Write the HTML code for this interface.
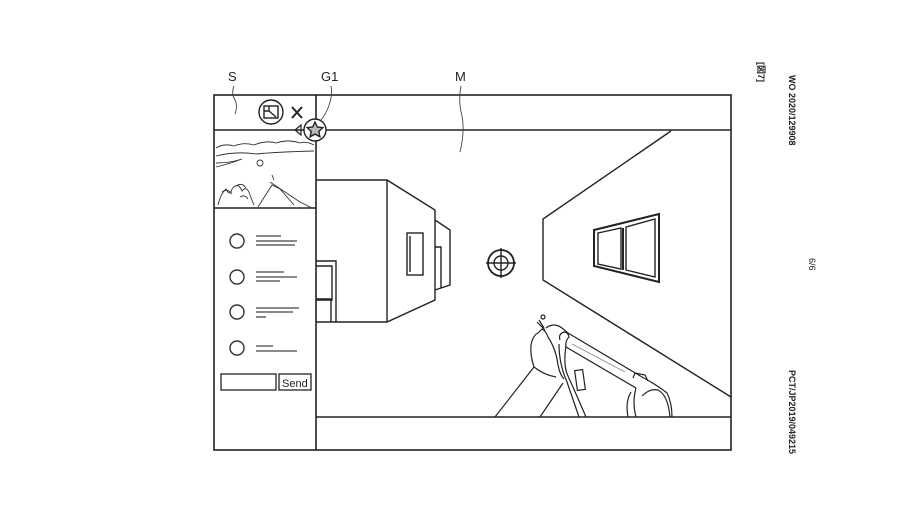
<!DOCTYPE html>
<html><head><style>
html,body{margin:0;padding:0;background:#fff;width:924px;height:520px;overflow:hidden}
svg{display:block}
text{font-family:"Liberation Sans","Noto Sans CJK JP",sans-serif;fill:#222}
</style></head><body>
<svg width="924" height="520" viewBox="0 0 924 520" xmlns="http://www.w3.org/2000/svg">
<g fill="none" stroke="#222" stroke-width="1.6">
<rect x="214" y="95" width="517" height="355"/>
<line x1="316" y1="95" x2="316" y2="450"/>
<line x1="214" y1="130" x2="731" y2="130"/>
<line x1="316" y1="417" x2="731" y2="417"/>
<line x1="214" y1="208" x2="316" y2="208"/>
</g>
<text x="228" y="81" font-size="13">S</text>
<text x="321" y="81" font-size="13">G1</text>
<text x="455" y="81" font-size="13">M</text>
<g fill="none" stroke="#444" stroke-width="0.9">
<path d="M234 86 q-3 8 1 14 q3 6 0 14"/>
<path d="M331 86 q2 10 -3 22 q-4 10 -12 18"/>
<path d="M461 86 q-3 15 1 30 q3 15 -2 36"/>
</g>
<g fill="none" stroke="#222" stroke-width="1.4">
<circle cx="271" cy="112" r="12"/>
<rect x="264" y="106" width="14" height="12"/>
<path d="M264 111 h5 v-5 M269 111 l7 6"/>
<path d="M292 107 l10 11 M302 107 l-10 11" stroke-width="2"/>
<path d="M301 125 l-6 5 l6 5 z" stroke-width="1.2"/>
<circle cx="315" cy="130" r="11" fill="#fff"/>
<path d="M315 122 l2.3 5 5.5 .6 -4 3.8 1.1 5.4 -4.9 -2.7 -4.9 2.7 1.1 -5.4 -4 -3.8 5.5 -.6z" fill="#bbb"/>
</g>
<g fill="none" stroke="#333" stroke-width="0.9">
<path d="M216 148 q8 -5 18 -2 q10 -4 20 -1 q12 -5 22 -2 q12 -4 24 0 q6 -2 14 2"/>
<path d="M216 156 q20 -5 40 -2 q20 -2 58 -3"/>
<path d="M216 163 q14 0 26 -4 q-10 4 -26 8"/>
<circle cx="260" cy="163" r="3"/>
<path d="M218 205 q3 -12 8 -16 q4 8 6 0 q6 -8 10 2 q5 -6 8 4 q3 8 4 10"/>
<path d="M222 192 q6 -4 10 2 M236 186 q6 -4 10 2 M240 197 q5 -3 8 2"/>
<path d="M258 207 l14 -22 l8 4 l14 16"/>
<path d="M270 182 l30 20 l12 6 M274 180 l-2 -5"/>
</g>
<g fill="none" stroke="#333" stroke-width="1.4">
<circle cx="237" cy="241" r="7"/><circle cx="237" cy="277" r="7"/>
<circle cx="237" cy="312" r="7"/><circle cx="237" cy="348" r="7"/>
</g>
<g stroke="#444" stroke-width="1.3">
<line x1="256" y1="236" x2="281" y2="236"/><line x1="256" y1="241" x2="297" y2="241"/><line x1="256" y1="245" x2="295" y2="245"/>
<line x1="256" y1="272" x2="284" y2="272"/><line x1="256" y1="277" x2="297" y2="277"/><line x1="256" y1="281" x2="280" y2="281"/>
<line x1="256" y1="308" x2="299" y2="308"/><line x1="256" y1="312" x2="293" y2="312"/><line x1="256" y1="317" x2="266" y2="317"/>
<line x1="256" y1="346" x2="273" y2="346"/><line x1="256" y1="351" x2="297" y2="351"/>
</g>
<rect x="221" y="374" width="55" height="16" fill="none" stroke="#222" stroke-width="1.3"/>
<rect x="279" y="374" width="32" height="16" fill="none" stroke="#222" stroke-width="1.3"/>
<text x="282" y="387" font-size="11">Send</text>
<g fill="none" stroke="#222" stroke-width="1.4">
<path d="M316 180 H387 L435 210 V300 L387 322 H316"/>
<line x1="387" y1="180" x2="387" y2="322"/>
<path d="M435 220 L450 230 V285 L435 290"/>
<path d="M435 247 H441 V288"/>
<rect x="407" y="233" width="16" height="42"/>
<path d="M410 236 v36"/>
<path d="M316 261 H336 V322 M316 266 H332 V300 H316 M316 299 H331 V322"/>
<path d="M671 131 L543 219 V280 L731 397"/>
<path d="M594 230 L659 214 V282 L594 266 Z" stroke-width="2"/>
<path d="M598 233 L621 228 V269 L598 264 Z M626 227 L655 219 V277 L626 270 Z"/>
<line x1="623" y1="228" x2="623" y2="270" stroke-width="2"/>
<circle cx="501" cy="263" r="13" stroke-width="1.8"/>
<circle cx="501" cy="263" r="7"/>
<path d="M486 263 h30 M501 248 v30"/>
</g>
<!-- arm and gun -->
<g fill="none" stroke="#222" stroke-width="1.2">
<circle cx="543" cy="317" r="2"/>
<path d="M537 322 l8 8 M539 320 l5 8"/>
<path d="M495 417 L534 367"/>
<path d="M540 417 L563 383"/>
<path d="M534 367 q-4 -12 -3 -22 q2 -10 7 -12 l4 -4 q4 2 6 8 q8 12 10 28 q2 10 6 14"/>
<path d="M534 367 q10 8 22 10"/>
<path d="M546 328 q8 -6 16 0 l6 5 L642 377 q15 8 25 16 q5 10 5 24"/>
<path d="M560 340 q-2 -6 4 -8 q4 0 5 5 q-4 4 -3 10 L636 388"/>
<path d="M566 346 q-3 20 2 30 l8 18 l10 23"/>
<path d="M559 344 q0 20 8 38 l12 35"/>
<path d="M572 344 L625 372" stroke="#888" stroke-width="0.8"/>
<rect x="576" y="370" width="8" height="20" transform="rotate(-8 580 380)"/>
<path d="M633 378 l2 -5 l10 2 l3 6"/>
<path d="M631 392 q-6 10 -3 25 M636 388 q-4 14 0 29 M642 396 q8 -8 16 -6 q10 5 12 27"/>
</g>
<g font-size="9" font-family="Liberation Serif,serif" font-weight="bold">
<text transform="translate(758,62) rotate(90)">[図7]</text>
<text transform="translate(789,75) rotate(90)">WO 2020/129908</text>
<text transform="translate(809,258) rotate(90)" font-weight="normal">6/6</text>
<text transform="translate(789,370) rotate(90)">PCT/JP2019/049215</text>
</g>
</svg>
</body></html>
